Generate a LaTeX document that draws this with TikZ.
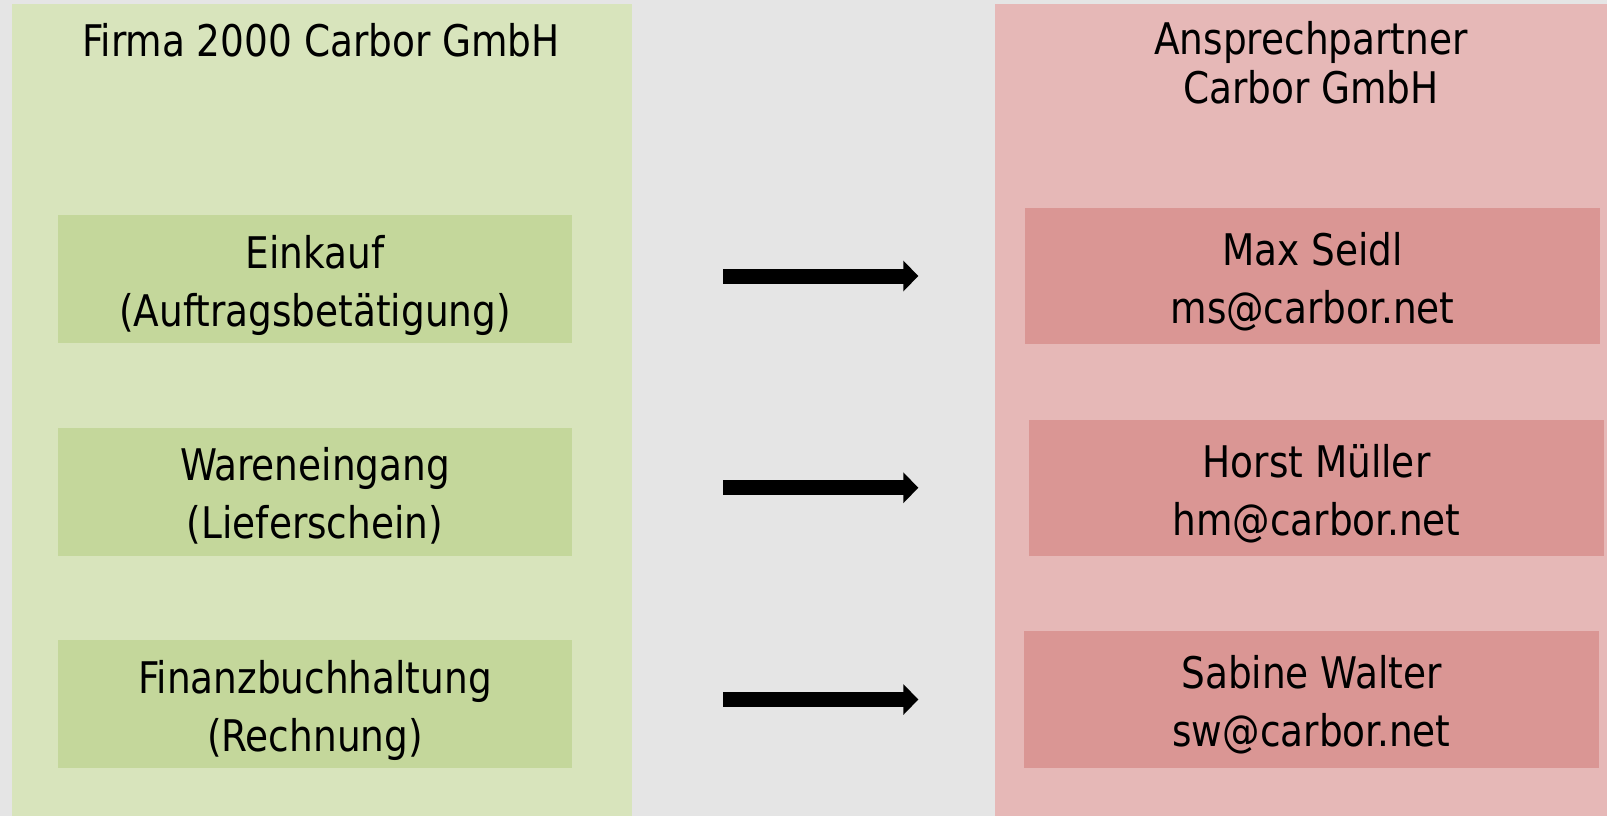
\documentclass[tikz,border=0pt]{standalone}
\usepackage{fontspec}
\setmainfont[FakeStretch=0.955]{DejaVu Sans Condensed}
\usetikzlibrary{arrows.meta}
\definecolor{bggray}{HTML}{E5E5E5}
\definecolor{panelgreen}{HTML}{D8E4BC}
\definecolor{boxgreen}{HTML}{C4D79B}
\definecolor{panelred}{HTML}{E6B8B7}
\definecolor{boxred}{HTML}{DA9694}
\begin{document}
\begin{tikzpicture}[x=0.1mm, y=-0.1mm,
        panel/.style={rectangle, inner sep=0pt, minimum width=#1, minimum height=81.2mm},
        dept/.style={rectangle, fill=boxgreen, minimum width=51.35mm, minimum height=12.8mm, align=center, text height=28pt, text depth=1pt, font=\fontsize{12.4}{16.5}\selectfont},
        contact/.style={rectangle, fill=boxred, minimum width=57.5mm, minimum height=13.6mm, align=center, text height=28pt, text depth=1pt, font=\fontsize{12.4}{16.5}\selectfont},
        flow/.style={line width=1.5mm, -{Triangle[length=1.5mm, width=3mm]}}]
        % company side and contact side
        \useasboundingbox[fill=bggray] (0,0) rectangle (1607,816);
        \node[panel=62mm, fill=panelgreen] (firma) at (322,410) {};
        \node[panel=61.2mm, fill=panelred] (partner) at (1301,410) {};
        \node[anchor=base, font=\fontsize{12.4}{13.7}\selectfont] (firmatitle) at (321,56.5) {Firma 2000 Carbor GmbH};
        \node[anchor=base, align=center, font=\fontsize{12.4}{13.7}\selectfont] (partnertitle) at (1311,103) {Ansprechpartner\\Carbor GmbH};

        \node[dept] (einkauf) at (315,279) {Einkauf\\(Auftragsbetätigung)};
        \node[dept] (wareneingang) at (315,491.5) {Wareneingang\\(Lieferschein)};
        \node[dept] (fibu) at (315,703.6) {Finanzbuchhaltung\\(Rechnung)};

        \node[contact] (seidl) at (1312.5,276) {Max Seidl\\ms@carbor.net};
        \node[contact, minimum height=13.55mm] (mueller) at (1316.5,487.75) {Horst Müller\\hm@carbor.net};
        \node[contact, minimum height=13.7mm] (walter) at (1311.5,699.5) {Sabine Walter\\sw@carbor.net};

        \draw[flow, shorten <=15.1mm, shorten >=10.6mm] (seidl.west -| einkauf.east) -- (seidl.west);
        \draw[flow, shorten <=15.1mm, shorten >=11mm] (mueller.west -| wareneingang.east) -- (mueller.west);
        \draw[flow, shorten <=15.1mm, shorten >=10.5mm] (walter.west -| fibu.east) -- (walter.west);
    \end{tikzpicture}
\end{document}
